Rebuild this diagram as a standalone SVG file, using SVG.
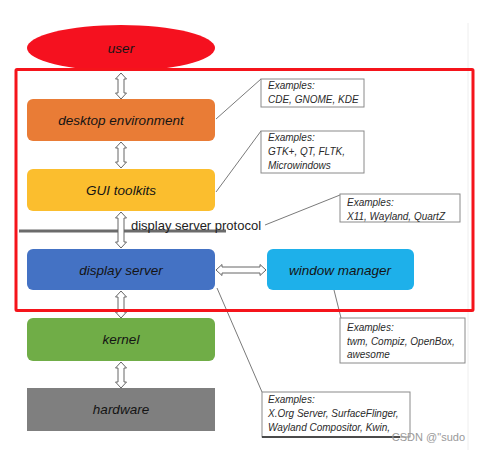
<svg xmlns="http://www.w3.org/2000/svg" width="481" height="450" viewBox="0 0 481 450">
<style>
.lbl{font-family:"Liberation Sans",Arial,sans-serif;font-style:italic;font-size:13.5px;fill:#141414;text-anchor:middle;dominant-baseline:central}
.ex{font-family:"Liberation Sans",Arial,sans-serif;font-style:italic;font-size:10px;fill:#2a2a2a}
.cb{fill:#fff;stroke:#8a8a8a;stroke-width:1}
.cl{stroke:#7a7a7a;stroke-width:1;fill:none}
.arr{fill:#fff;stroke:#666;stroke-width:1}
</style>
<rect width="481" height="450" fill="#fff"/>
<line x1="468" y1="23" x2="468" y2="450" stroke="#eee" stroke-width="1"/>
<g id="user"><ellipse cx="121" cy="48" rx="94" ry="23" fill="#F5111F"/><text class="lbl" x="121" y="48">user</text></g>
<g id="desktop"><rect x="27" y="99" width="188" height="42" rx="6" fill="#E97C36"/><text class="lbl" x="121" y="120">desktop environment</text></g>
<g id="gui"><rect x="27" y="169" width="188" height="42" rx="6" fill="#FBBE2E"/><text class="lbl" x="121" y="190">GUI toolkits</text></g>
<g id="displayserver"><rect x="27" y="249" width="188" height="41" rx="6" fill="#4472C4"/><text class="lbl" x="121" y="270">display server</text></g>
<g id="windowmanager"><rect x="267" y="249" width="147" height="41" rx="6" fill="#1EB0EA"/><text class="lbl" x="340" y="270">window manager</text></g>
<g id="kernel"><rect x="27" y="318" width="188" height="43" rx="6" fill="#70AD47"/><text class="lbl" x="121" y="339">kernel</text></g>
<g id="hardware"><rect x="27" y="388" width="188" height="43" fill="#7F7F7F"/><text class="lbl" x="121" y="409">hardware</text></g>
<g id="protocol"><line x1="19" y1="231" x2="226" y2="231" stroke="#6b6b6b" stroke-width="3"/><text x="131" y="230" font-family="Liberation Sans, Arial, sans-serif" font-size="13" fill="#222">display server protocol</text></g>
<g id="connectors">
<path class="arr" d="M121,73 L126.5,79 L124,79 L124,93 L126.5,93 L121,99 L115.5,93 L118,93 L118,79 L115.5,79 Z"/>
<path class="arr" d="M121,142 L126.5,148 L124,148 L124,162 L126.5,162 L121,168 L115.5,162 L118,162 L118,148 L115.5,148 Z"/>
<path class="arr" d="M121,212 L126.5,218 L124,218 L124,242 L126.5,242 L121,248 L115.5,242 L118,242 L118,218 L115.5,218 Z"/>
<path class="arr" d="M121,291 L126.5,297 L124,297 L124,312 L126.5,312 L121,318 L115.5,312 L118,312 L118,297 L115.5,297 Z"/>
<path class="arr" d="M121,362 L126.5,368 L124,368 L124,382 L126.5,382 L121,388 L115.5,382 L118,382 L118,368 L115.5,368 Z"/>
<path class="arr" d="M216,270 L222,264.5 L222,267 L260,267 L260,264.5 L266,270 L260,275.5 L260,273 L222,273 L222,275.5 Z"/>
<line class="cl" x1="216" y1="119" x2="261" y2="79"/>
<line class="cl" x1="216" y1="192" x2="261" y2="131"/>
<line class="cl" x1="265" y1="225" x2="340" y2="195"/>
<line class="cl" x1="334" y1="290" x2="341" y2="318"/>
<line class="cl" x1="217" y1="288" x2="262" y2="392"/>
</g>
<g id="ex-de"><rect class="cb" x="261" y="79" width="103" height="28"/><text class="ex" x="268" y="89">Examples:</text><text class="ex" x="268" y="103">CDE, GNOME, KDE</text></g>
<g id="ex-gui"><rect class="cb" x="261" y="131" width="103" height="42"/><text class="ex" x="268" y="141">Examples:</text><text class="ex" x="268" y="155">GTK+, QT, FLTK,</text><text class="ex" x="268" y="169">Microwindows</text></g>
<g id="ex-proto"><rect class="cb" x="340" y="194" width="120" height="28"/><text class="ex" x="347" y="206">Examples:</text><text class="ex" x="347" y="220">X11, Wayland, QuartZ</text></g>
<g id="ex-wm"><rect class="cb" x="340" y="318" width="125" height="45"/><text class="ex" x="347" y="331">Examples:</text><text class="ex" x="347" y="345">twm, Compiz, OpenBox,</text><text class="ex" x="347" y="358">awesome</text></g>
<g id="ex-ds"><rect class="cb" x="262" y="392" width="148" height="45"/><line x1="262" y1="437" x2="400" y2="437" stroke="#222" stroke-width="1.5"/><text class="ex" x="268" y="403">Examples:</text><text class="ex" x="268" y="417">X.Org Server, SurfaceFlinger,</text><text class="ex" x="268" y="431">Wayland Compositor, Kwin,</text></g>
<rect x="16" y="69.5" width="457" height="241" fill="none" stroke="#F5141B" stroke-width="3" rx="1"/>
<text x="465" y="441" text-anchor="end" font-family="Liberation Sans, Arial, sans-serif" font-size="11" fill="#9a9a9a">CSDN @"sudo</text>
</svg>
